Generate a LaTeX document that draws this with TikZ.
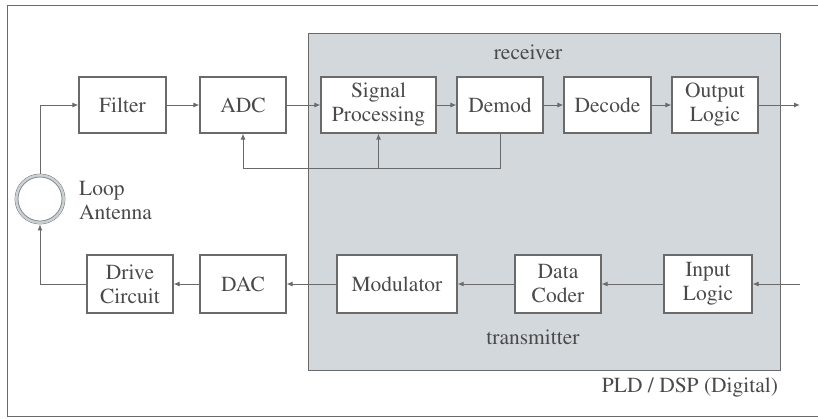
\documentclass[tikz,border=0pt]{standalone}
\usepackage[T1]{fontenc}
\usepackage{times}
\usetikzlibrary{arrows.meta}
\definecolor{txt}{HTML}{4A4A4A}
\definecolor{edge}{HTML}{6A6A6A}
\definecolor{digi}{HTML}{D3D8DD}
\definecolor{ring}{HTML}{C9D3D6}
\tikzset{
  blk/.style={draw=edge, line width=1.1pt, fill=white, minimum height=56pt, align=center, inner sep=2pt, text=txt, font=\rmfamily\fontsize{21.5}{24}\selectfont},
  lbl/.style={text=txt, font=\rmfamily\fontsize{21.5}{24}\selectfont, inner sep=0pt},
  wire/.style={draw=edge, line width=1pt},
  arr/.style={wire, -{Latex[length=6pt,width=5pt]}}
}
\begin{document}
\begin{tikzpicture}[x=1pt,y=-1pt]
\useasboundingbox (0,0) rectangle (818,418);
\fill[white] (0,0) rectangle (818,418);
% outer frame
\draw[edge, line width=1pt] (818,5) -- (7,5) -- (7,416) -- (818,416);
% digital area
\draw[fill=digi, draw=edge, line width=1pt] (308,33) rectangle (780,370);
\node[lbl] (rx) at (528,52) {receiver};
\node[lbl] (tx) at (533,337) {transmitter};
\node[lbl] (pld) at (690,388) {PLD / DSP (Digital)};
% top row
\node[blk, minimum width=87pt] (filt) at (122.5,105) {Filter};
\node[blk, minimum width=86pt] (adc) at (243,105) {ADC};
\node[blk, minimum width=115pt] (sp) at (378.5,105) {Signal\\Processing};
\node[blk, minimum width=86pt] (dem) at (500,105) {Demod};
\node[blk, minimum width=87pt] (dec) at (607.5,105) {Decode};
\node[blk, minimum width=86pt] (out) at (715,105) {Output\\Logic};
\coordinate (rout) at (800,105);
% bottom row
\node[blk, minimum width=86pt, minimum height=58pt] (drv) at (130,284) {Drive\\Circuit};
\node[blk, minimum width=86pt, minimum height=58pt] (dac) at (243,284) {DAC};
\node[blk, minimum width=120pt, minimum height=58pt] (mod) at (397,284) {Modulator};
\node[blk, minimum width=86pt, minimum height=58pt] (dc) at (558,284) {Data\\Coder};
\node[blk, minimum width=88pt, minimum height=58pt] (inl) at (708,284) {Input\\Logic};
\coordinate (tin) at (800,284);
% antenna
\node[circle, draw=edge!80, line width=0.8pt, minimum size=50pt, inner sep=0pt] (ant) at (40,199) {};
\draw[ring, line width=2.5pt] (ant.center) circle (23.5pt);
\draw[edge!80, line width=0.8pt] (ant.center) circle (22pt);
\node[lbl, anchor=west, align=left] (antl) at (79,201) {Loop\\Antenna};
% connectors
\draw[arr] (ant.north) |- (filt.west);
\draw[arr] (filt) -- (adc);
\draw[arr] (adc) -- (sp);
\draw[arr] (sp) -- (dem);
\draw[arr] (dem) -- (dec);
\draw[arr] (dec) -- (out);
\draw[arr] (out) -- (rout);
\coordinate (fb) at (500,168);
\coordinate (fbs) at (378.5,168);
\draw[arr] (dem.south) -- (fb) -| (adc.south);
\draw[arr] (fbs) -- (sp.south);
\draw[arr] (tin) -- (inl);
\draw[arr] (inl) -- (dc);
\draw[arr] (dc) -- (mod);
\draw[arr] (mod) -- (dac);
\draw[arr] (dac) -- (drv);
\draw[arr] (drv.west) -| (ant.south);
\end{tikzpicture}
\end{document}
